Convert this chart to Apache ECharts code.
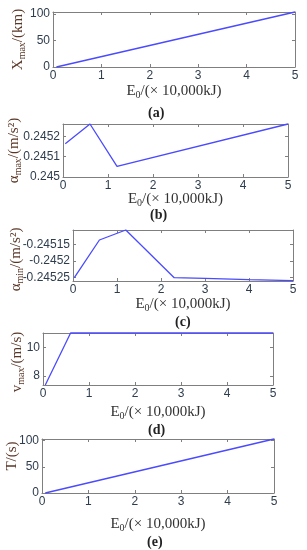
<!DOCTYPE html>
<html><head><meta charset="utf-8">
<script src="https://cdn.jsdelivr.net/npm/echarts@6/dist/echarts.min.js"></script>
<style>html,body{margin:0;padding:0;background:#fff}#c{width:307px;height:550px}</style>
</head><body><div id="c"></div>
<script>
// ---- data ----
const xTicks = [0, 1, 2, 3, 4, 5];
const eA = [0.07, 5];            const xmaxA = [0, 104];
const eB = [0.05, 0.6, 1.2, 5];  const amaxB = [0.245163, 0.24526, 0.245052, 0.24526];
const eC = [0.03, 0.6, 1.2, 2.3, 3, 4, 5];
const aminC = [-0.24525, -0.245137, -0.245107, -0.24525, -0.245252, -0.245256, -0.245259];
const eD = [0.05, 0.6, 5];       const vmaxD = [7.37, 11.02, 11.02];
const eE = [0.07, 5];            const tE = [0, 103];
const yTicksA = [0, 50, 100];
const yTicksB = [0.245, 0.2451, 0.2452];
const yTicksC = [-0.24525, -0.2452, -0.24515];
const yTicksD = [8, 10];
const yTicksE = [0, 50, 100];
const yNames = ['{m|X}{s|max}{m|/(km)}', '{m|α}{s|max}{m|/(m/s²)}', '{m|α}{s|min}{m|/(m/s²)}', '{m|v}{s|max}{m|/(m/s)}', '{m|T/(s)}'];
const captions = ['(a)', '(b)', '(c)', '(d)', '(e)'];
const xName = '{m|E}{s|0}{m|/(× 10,000kJ)}';

// ---- layout ----
const grids = [
  {left: 53, top: 12, width: 242, height: 55},
  {left: 63, top: 124, width: 225, height: 53},
  {left: 73, top: 230, width: 220, height: 51},
  {left: 43, top: 333, width: 230, height: 52},
  {left: 42, top: 439, width: 232, height: 54}
];
const yRanges = [[0, 104], [0.245, 0.24526], [-0.24526, -0.245107], [7.37, 11.02], [0, 103]];
const yTicks = [yTicksA, yTicksB, yTicksC, yTicksD, yTicksE];
const series = [[eA, xmaxA], [eB, amaxB], [eC, aminC], [eD, vmaxD], [eE, tE]];
const xNameGaps = [15, 13, 14, 18, 22];
const yNameGaps = [26, 40, 48, 17, 21];
const yNamePad = [[0,0,0,0], [0,0,0,0], [0,8,0,0], [0,6,0,0], [0,0,0,20]];
const capY = [113, 215, 322, 430, 542];
const capX = [158, 160, 185, 158, 157];

const axisCol = '#7f7f7f';
const tickLabCol = '#2e3d4d';
const nameCol = '#5a3626';
const rich = {
  m: {fontFamily: 'Liberation Serif', fontSize: 15, lineHeight: 18, color: nameCol},
  s: {fontFamily: 'Liberation Serif', fontSize: 10, lineHeight: 10, verticalAlign: 'bottom', color: nameCol}
};
const richX = {
  m: {fontFamily: 'Liberation Serif', fontSize: 15, lineHeight: 18, color: '#333'},
  s: {fontFamily: 'Liberation Serif', fontSize: 10, lineHeight: 10, verticalAlign: 'bottom', color: '#333'}
};

const xAxis = [], yAxis = [], ser = [], graphic = [];
grids.forEach((g, i) => {
  xAxis.push({
    gridIndex: i, type: 'value', min: 0, max: 5, interval: 1, position: 'bottom',
    axisLine: {onZero: false, lineStyle: {color: axisCol, width: 1}},
    axisTick: {inside: true, length: 3, lineStyle: {color: axisCol}},
    axisLabel: {margin: 3, fontFamily: 'Liberation Sans', fontSize: 12, color: tickLabCol},
    splitLine: {show: false},
    name: xName, nameLocation: 'middle', nameGap: xNameGaps[i], nameMoveOverlap: false,
    nameTextStyle: {rich: richX}
  });
  xAxis.push({
    gridIndex: i, type: 'value', min: 0, max: 5, interval: 1, position: 'top',
    axisLine: {onZero: false, lineStyle: {color: axisCol, width: 1}},
    axisTick: {inside: true, length: 3, lineStyle: {color: axisCol}},
    axisLabel: {show: false}, splitLine: {show: false}
  });
  const [ymin, ymax] = yRanges[i];
  yAxis.push({
    gridIndex: i, type: 'value', min: ymin, max: ymax, position: 'left',
    axisLine: {show: true, onZero: false, lineStyle: {color: axisCol, width: 1}},
    axisTick: {show: true, inside: true, length: 3, lineStyle: {color: axisCol}, customValues: yTicks[i]},
    axisLabel: {margin: 3, fontFamily: 'Liberation Sans', fontSize: 12, color: tickLabCol, customValues: yTicks[i]},
    splitLine: {show: false},
    name: yNames[i], nameLocation: 'middle', nameRotate: 90, nameGap: yNameGaps[i], nameMoveOverlap: false,
    nameTextStyle: {rich: rich, padding: yNamePad[i]}
  });
  yAxis.push({
    gridIndex: i, type: 'value', min: ymin, max: ymax, position: 'right',
    axisLine: {show: true, onZero: false, lineStyle: {color: axisCol, width: 1}},
    axisTick: {show: true, inside: true, length: 3, lineStyle: {color: axisCol}, customValues: yTicks[i]},
    axisLabel: {show: false}, splitLine: {show: false}
  });
  const [xs, ys] = series[i];
  ser.push({
    type: 'line', xAxisIndex: 2 * i, yAxisIndex: 2 * i, data: xs.map((x, k) => [x, ys[k]]),
    showSymbol: false, symbol: 'none', clip: false,
    lineStyle: {color: '#4a4aff', width: 1.3}, animation: false
  });
  graphic.push({
    type: 'text', left: capX[i] - 10, top: capY[i] - 7,
    style: {text: captions[i], fontFamily: 'Liberation Serif', fontWeight: 'bold', fontSize: 14, fill: '#222'}
  });
});

const chart = echarts.init(document.getElementById('c'), null, {renderer: 'canvas'});
chart.setOption({
  animation: false,
  grid: grids.map(g => Object.assign({containLabel: false, outerBoundsMode: 'none'}, g)),
  xAxis, yAxis, series: ser, graphic
});
</script></body></html>
